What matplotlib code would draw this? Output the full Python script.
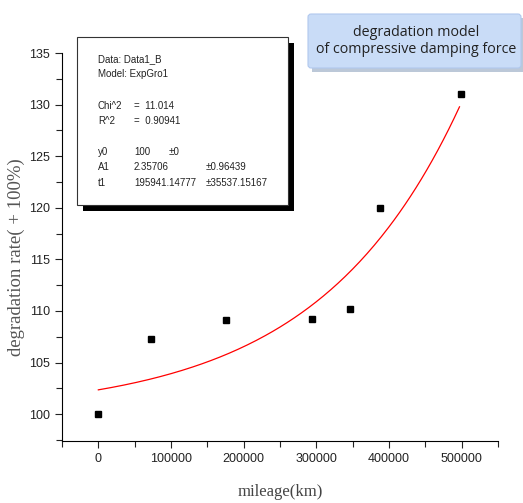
import numpy as np
import matplotlib.pyplot as plt
from matplotlib.patches import Rectangle, FancyBboxPatch
from matplotlib.ticker import MultipleLocator

# measured points
mileage = [0, 73000, 176000, 294000, 346000, 387000, 499000]
rate = [100.0, 107.3, 109.1, 109.2, 110.2, 120.0, 131.0]

# ExpGro1 fit parameters (from the fit report)
y0 = 100
A1 = 2.35706
t1 = 195941.14777

fit_x = np.linspace(0, 497000, 200)
fit_y = y0 + A1 * np.exp(fit_x / t1)

fig = plt.figure(figsize=(5.23, 5.03), dpi=100)
ax = fig.add_axes([62 / 523, 62 / 503, 436 / 523, 388 / 503])

ax.plot(fit_x, fit_y, color='red', lw=0.9)
ax.plot(mileage, rate, 's', color='black', ms=4.6)

ax.set_xlim(-50000, 550000)
ax.set_ylim(97.4, 135)
ax.xaxis.set_major_locator(MultipleLocator(100000))
ax.xaxis.set_minor_locator(MultipleLocator(50000))
ax.yaxis.set_major_locator(MultipleLocator(5))
ax.yaxis.set_minor_locator(MultipleLocator(2.5))
ax.tick_params(which='both', direction='out', labelsize=9, width=0.8, colors='#222222')
ax.tick_params(which='major', length=5)
ax.tick_params(which='minor', length=4)
for lab in ax.get_xticklabels() + ax.get_yticklabels():
    lab.set_fontfamily('Liberation Sans')
for s in ['top', 'right']:
    ax.spines[s].set_visible(False)

ax.set_xlabel('mileage(km)', family='Liberation Serif', fontsize=12, color='#444444', labelpad=14)
ax.set_ylabel('degradation rate( + 100%)', family='Liberation Serif', fontsize=13.5, color='#555555')
ax.yaxis.set_label_coords(-0.085, 0.475)

# fit report box with shadow
fig.patches.append(Rectangle((83 / 523, (503 - 211) / 503), 211 / 523, 168 / 503,
                             transform=fig.transFigure, facecolor='black', edgecolor='none', zorder=3))
fig.patches.append(Rectangle((77 / 523, (503 - 205) / 503), 211 / 523, 168 / 503,
                             transform=fig.transFigure, facecolor='white', edgecolor='#333333', lw=0.8, zorder=4))
report = [
    ('Data: Data1_B', None, None, None, 59),
    ('Model: ExpGro1', None, None, None, 74),
    ('Chi^2', '=  11.014', None, None, 106),
    ('R^2', '=  0.90941', None, None, 121),
    ('y0', '100', '\u00b10', None, 152),
    ('A1', '2.35706', None, '\u00b10.96439', 167),
    ('t1', '195941.14777', None, '\u00b135537.15167', 183),
]
cols = [98, 134, 169, 206]
for a, b, c, d, yy in report:
    for col, s in zip(cols, [a, b, c, d]):
        if s:
            fig.text(col / 523, 1 - yy / 503, s, fontsize=7, family='Liberation Sans',
                     color='#222222', va='center', zorder=5)

# title box
fig.patches.append(Rectangle((312 / 523, (503 - 72) / 503), 211 / 523, 54 / 503,
                             transform=fig.transFigure, facecolor='#bcc8d8', edgecolor='none', zorder=2))
fig.patches.append(FancyBboxPatch((308 / 523, (503 - 68) / 503), 213 / 523, 54 / 503,
                                  boxstyle='round,pad=0,rounding_size=0.006',
                                  transform=fig.transFigure, facecolor='#c9dcf7',
                                  edgecolor='#b0c8ee', lw=0.8, zorder=3))
fig.text(416 / 523, 1 - 41 / 503, 'degradation model\nof compressive damping force',
         ha='center', va='center', fontsize=10.3, family='Open Sans', color='#222222',
         linespacing=1.2, zorder=5)

fig.savefig('out.png', dpi=100)
